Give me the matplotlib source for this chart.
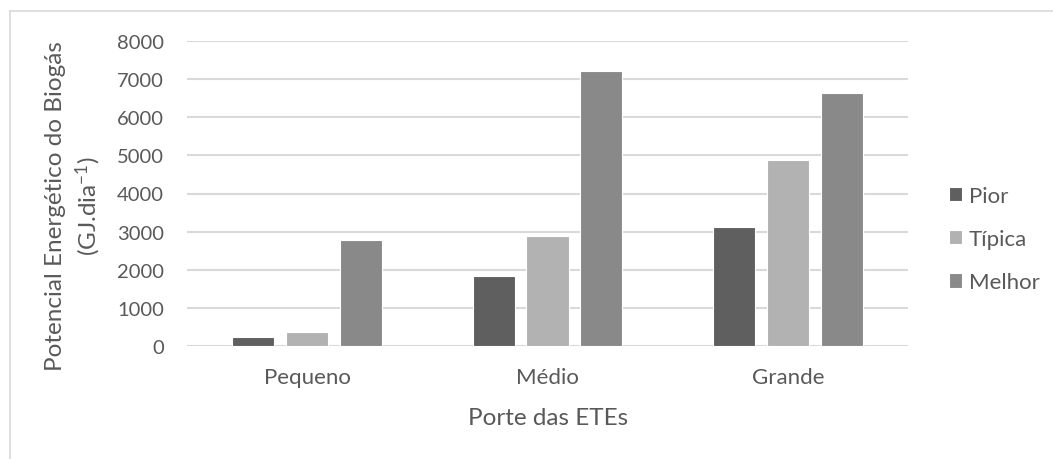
import matplotlib
matplotlib.use("Agg")
import matplotlib.pyplot as plt
import numpy as np
from matplotlib.lines import Line2D

categories = ["Pequeno", "Médio", "Grande"]
series_names = ["Pior", "Típica", "Melhor"]
pior = [230, 1830, 3130]
tipica = [360, 2880, 4890]
melhor = [2790, 7210, 6630]
yticks = [0, 1000, 2000, 3000, 4000, 5000, 6000, 7000, 8000]

colors = ["#5f5f5f", "#b2b2b2", "#898989"]
txt = "#595959"
grid = "#d9d9d9"

plt.rcParams['font.family'] = ['Lato', 'DejaVu Sans']
plt.rcParams['mathtext.fontset'] = 'custom'
plt.rcParams['mathtext.rm'] = 'Lato'
plt.rcParams['mathtext.it'] = 'Lato'

fig = plt.figure(figsize=(10.53, 4.6), dpi=100)
ax = fig.add_axes([187/1053, 1-347/460, (908-187)/1053, (347-42)/460])

x = np.arange(len(categories))
w = 0.175
step = 0.224
for i, (vals, name) in enumerate(zip([pior, tipica, melhor], series_names)):
    ax.bar(x + (i-1)*step, vals, width=w, color=colors[i], edgecolor="white",
           linewidth=0.8, label=name, zorder=3)

ax.set_xlim(-0.5, 2.5)
ax.set_ylim(0, 8000)
ax.set_yticks(yticks)
ax.set_yticklabels([str(v) for v in yticks])
ax.set_xticks(x)
ax.set_xticklabels(categories)
ax.yaxis.grid(True, color=grid, linewidth=1.5, zorder=0)
ax.set_axisbelow(True)
for s in ["top", "right", "left", "bottom"]:
    ax.spines[s].set_visible(False)
ax.tick_params(axis='both', length=0, colors=txt)
ax.tick_params(axis='y', pad=16.5, labelsize=14.5)
ax.tick_params(axis='x', pad=15, labelsize=16)

fig.text(548/1053, 1-419/460, "Porte das ETEs", ha="center", va="center",
         fontsize=17.5, color=txt)
fig.text(74/1053, 1-206/460, "Potencial Energético do Biogás\n(GJ.dia$^{-1}$)",
         ha="center", va="center", rotation=90, multialignment="center",
         fontsize=17.5, color=txt, linespacing=1.3)

leg = ax.legend(loc="center left", bbox_to_anchor=(949/1053, 1-240/460),
                bbox_transform=fig.transFigure, frameon=False, fontsize=16,
                handlelength=0.6, handleheight=0.6, handletextpad=0.3,
                labelspacing=1.05, borderpad=0, borderaxespad=0)
for t in leg.get_texts():
    t.set_color(txt)

fig.add_artist(Line2D([10/1053, 1.0], [1-12/460, 1-12/460], transform=fig.transFigure,
                      color=grid, linewidth=1.2))
fig.add_artist(Line2D([10/1053, 10/1053], [0, 1-12/460], transform=fig.transFigure,
                      color=grid, linewidth=1.2))

fig.savefig("out.png", dpi=100)
